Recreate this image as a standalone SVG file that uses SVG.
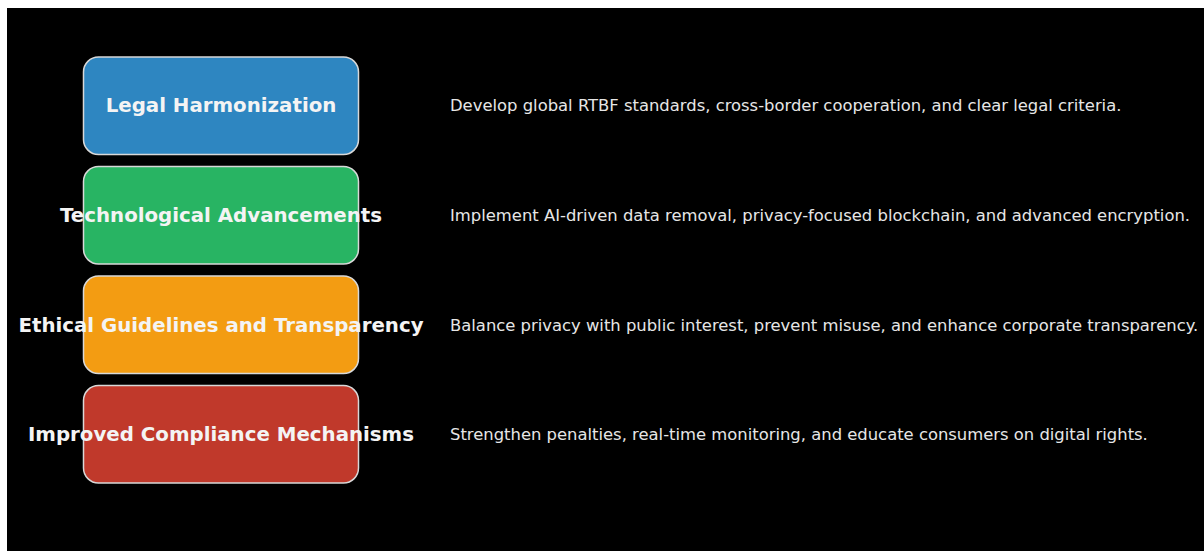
<svg xmlns="http://www.w3.org/2000/svg" width="1204" height="551" viewBox="0 0 1204 551">
  <style>
    .box { stroke: #d8d8d8; stroke-width: 1.5; }
    .title { font-family: "DejaVu Sans", sans-serif; font-weight: bold; font-size: 19.8px; fill: #f4f4f4; text-anchor: middle; }
    .desc { font-family: "DejaVu Sans", sans-serif; font-size: 16.4px; fill: #e6e6e6; }
  </style>
  <rect x="0" y="0" width="1204" height="551" fill="#ffffff"/>
  <rect x="7" y="8" width="1197" height="543" fill="#000000"/>

  <g id="legal-harmonization">
    <rect class="box" x="83.5" y="57" width="275" height="97.5" rx="15" fill="#2e86c1"/>
    <text class="title" x="221" y="112">Legal Harmonization</text>
    <text class="desc" x="450" y="111">Develop global RTBF standards, cross-border cooperation, and clear legal criteria.</text>
  </g>

  <g id="technological-advancements">
    <rect class="box" x="83.5" y="166.5" width="275" height="97.5" rx="15" fill="#28b463"/>
    <text class="title" x="221" y="222">Technological Advancements</text>
    <text class="desc" x="450" y="221">Implement AI-driven data removal, privacy-focused blockchain, and advanced encryption.</text>
  </g>

  <g id="ethical-guidelines">
    <rect class="box" x="83.5" y="276" width="275" height="97.5" rx="15" fill="#f39c12"/>
    <text class="title" x="221" y="331.5">Ethical Guidelines and Transparency</text>
    <text class="desc" x="450" y="330.5">Balance privacy with public interest, prevent misuse, and enhance corporate transparency.</text>
  </g>

  <g id="improved-compliance">
    <rect class="box" x="83.5" y="385.5" width="275" height="97.5" rx="15" fill="#c0392b"/>
    <text class="title" x="221" y="441">Improved Compliance Mechanisms</text>
    <text class="desc" x="450" y="440">Strengthen penalties, real-time monitoring, and educate consumers on digital rights.</text>
  </g>

  <g id="connectors"></g>
</svg>
